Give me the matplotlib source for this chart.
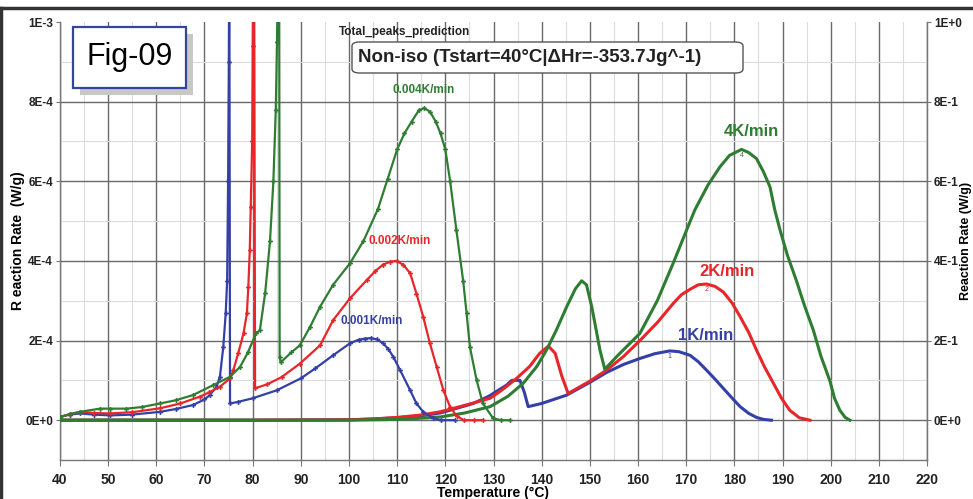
import numpy as np
import matplotlib
matplotlib.use('Agg')
import matplotlib.pyplot as plt
from matplotlib.patches import Rectangle, FancyBboxPatch
from matplotlib.lines import Line2D
from matplotlib.ticker import MultipleLocator

plt.rcParams['font.family'] = ['Liberation Sans', 'DejaVu Sans']

## Data (reaction rate in units of 1E-4 W/g) ##
# slow runs (with markers)
t_001 = [40, 42, 44.2, 47, 50.4, 55, 60.8, 64, 67.6, 70, 71.1, 72.5, 73.2, 73.9, 74.4, 74.7, 74.9, 75.05, 75.15,
         75.3, 77, 80, 85, 90, 93, 96.7, 100.2, 102, 103.3, 104.5, 105.8, 107.1, 108.2, 109.2, 110.6, 112.7, 114,
         115.4, 117.5, 119, 122]
r_001 = [0.08, 0.14, 0.17, 0.14, 0.12, 0.14, 0.21, 0.28, 0.38, 0.52, 0.63, 0.84, 1.09, 1.84, 2.68, 3.5, 6.0, 9.0, 12.0,
         0.42, 0.46, 0.55, 0.75, 1.05, 1.3, 1.63, 1.93, 2.02, 2.05, 2.06, 2.03, 1.93, 1.78, 1.59, 1.26, 0.75, 0.42,
         0.21, 0.05, 0.0, 0.0]

t_002 = [40, 42, 44.2, 47, 50.4, 55, 60.8, 65, 69, 71, 73.2, 75.3, 76, 77, 78.1, 78.8, 79.1, 79.4, 79.6, 79.9, 80.0,
         80.15, 80.3, 80.5, 83, 86, 89.8, 94, 96.7, 100.2, 103.7, 105.5, 107, 108.5, 109.9, 111.3, 112.7, 114,
         115.4, 116.8, 118.2, 119.6, 121, 122.4, 123.8, 126, 127.8]
r_002 = [0.08, 0.15, 0.21, 0.18, 0.17, 0.2, 0.3, 0.42, 0.59, 0.7, 0.84, 1.05, 1.26, 1.68, 2.18, 2.68, 3.35, 4.27, 5.36, 7.0, 9.4,
         12.0, 12.0, 0.8, 0.9, 1.08, 1.42, 1.88, 2.51, 3.06, 3.52, 3.75, 3.9, 3.98, 4.0, 3.9, 3.69, 3.18,
         2.6, 1.93, 1.34, 0.75, 0.33, 0.1, 0.0, 0.0, 0.0]

t_004 = [40, 42, 44.2, 48.3, 50.4, 53.8, 57, 60.8, 64, 67.6, 71.8, 75.3, 77.4, 79, 80.7, 81.5, 82.6, 83.6, 84.3, 84.8,
         85.05, 85.3, 85.5, 85.6, 85.8, 88, 89.8, 91.9, 94, 96.7, 100.2, 103, 106, 108, 110, 111.5, 113, 114.5,
         115.6, 116.8, 118, 119, 120, 121, 122.3, 123.7, 124.4, 125.1, 126.5, 127.8, 129.9, 131.5, 133.4]
r_004 = [0.08, 0.15, 0.21, 0.29, 0.29, 0.29, 0.33, 0.42, 0.5, 0.63, 0.88, 1.09, 1.34, 1.7, 2.18, 2.26, 3.2, 4.5, 6.0, 7.8,
         9.5, 12.0, 12.0, 1.58, 1.45, 1.7, 1.88, 2.34, 2.85, 3.4, 3.94, 4.5, 5.3, 6.05, 6.8, 7.2, 7.5, 7.78,
         7.84, 7.75, 7.5, 7.2, 6.8, 6.0, 4.77, 3.5, 2.7, 1.84, 1.0, 0.42, 0.05, 0.0, 0.0]

# fast runs (lines)
t_1 = [40, 60, 80, 100, 105, 110, 115, 118.9, 121, 125.8, 129, 132.7, 133.8, 135.5, 136.4, 137.2, 140, 145.2, 150,
       153.5, 157, 160.4, 163.5, 166.6, 168.5, 170.8, 172.5, 174.2, 176, 177.7, 179.5, 181.2, 183, 184.6, 186, 187.7]
r_1 = [0, 0, 0, 0.01, 0.03, 0.06, 0.11, 0.18, 0.25, 0.42, 0.6, 0.88, 1.0, 1.0, 0.7, 0.34, 0.42, 0.63, 0.95,
       1.2, 1.4, 1.55, 1.67, 1.74, 1.72, 1.63, 1.47, 1.26, 1.03, 0.8, 0.56, 0.34, 0.17, 0.07, 0.02, 0.0]

t_2 = [40, 60, 80, 100, 105, 110, 115, 118.9, 124, 129.3, 132, 134.8, 137.5, 139.6, 141.4, 142.8, 144.2, 145.5, 150,
       153.5, 157, 160.4, 164, 167.3, 169, 171, 172.5, 174.2, 176, 177.7, 179.5, 181.2, 183, 184.6, 186.3, 188.1,
       189.8, 191.5, 193.5, 195.7]
r_2 = [0, 0, 0, 0.01, 0.03, 0.07, 0.13, 0.21, 0.37, 0.55, 0.78, 1.05, 1.35, 1.68, 1.86, 1.68, 1.1, 0.67, 0.98,
       1.26, 1.6, 2.0, 2.45, 2.93, 3.15, 3.3, 3.4, 3.42, 3.36, 3.22, 2.95, 2.6, 2.2, 1.76, 1.33, 0.93,
       0.55, 0.25, 0.06, 0.0]

t_4 = [40, 60, 80, 100, 105, 110, 115, 118.9, 124, 129.3, 133, 136.2, 139, 141, 143, 145.2, 147, 148.3, 149.3, 150.4,
       152.1, 153.1, 156, 160.4, 164, 167.3, 169.5, 171.8, 174.5, 177, 179, 181.5, 183, 184.6, 186, 187.4, 188.4,
       189.5, 191, 192.9, 194.5, 196.4, 198, 199.8, 200.8, 201.9, 203, 204]
r_4 = [0, 0, 0, 0, 0.01, 0.02, 0.05, 0.08, 0.18, 0.34, 0.6, 0.93, 1.35, 1.76, 2.25, 2.85, 3.3, 3.5, 3.4, 2.85,
       1.76, 1.28, 1.65, 2.18, 3.0, 3.94, 4.6, 5.28, 5.9, 6.36, 6.65, 6.8, 6.72, 6.57, 6.25, 5.86, 5.28,
       4.77, 4.15, 3.5, 2.9, 2.26, 1.6, 1.0, 0.55, 0.25, 0.07, 0.0]

x_ticks = [40, 50, 60, 70, 80, 90, 100, 110, 120, 130, 140, 150, 160, 170, 180, 190, 200, 210, 220]
left_ticks = [0, 2e-4, 4e-4, 6e-4, 8e-4, 1e-3]
left_labels = ['0E+0', '2E-4', '4E-4', '6E-4', '8E-4', '1E-3']
right_ticks = [0, 0.2, 0.4, 0.6, 0.8, 1.0]
right_labels = ['0E+0', '2E-1', '4E-1', '6E-1', '8E-1', '1E+0']

blue = '#3440a6'
red = '#e8262a'
green = '#2e7d32'
scale = 1e-4

fig = plt.figure(figsize=(9.73, 4.99), dpi=100)
ax = fig.add_axes([60/973, 1-460/499, 867/973, 438/499])

# fast runs first, slow runs on top
ax.plot(t_1, np.array(r_1)*scale, color=blue, lw=2.2, zorder=3)
ax.plot(t_2, np.array(r_2)*scale, color=red, lw=2.2, zorder=3)
ax.plot(t_4, np.array(r_4)*scale, color=green, lw=2.2, zorder=3)

for t, r, c in [(t_001, r_001, blue), (t_002, r_002, red), (t_004, r_004, green)]:
    ax.plot(t, np.array(r)*scale, color=c, lw=1.6, marker='P', ms=3.5, mew=0, zorder=4)

ax.set_xlim(40, 220)
ax.set_ylim(-1e-4, 1e-3)
ax.set_xticks(x_ticks)
ax.xaxis.set_minor_locator(MultipleLocator(5))
ax.set_yticks(left_ticks)
ax.set_yticklabels(left_labels)
ax.yaxis.set_minor_locator(MultipleLocator(1e-4))

ax.grid(which='major', color='#6a6a6a', lw=1.0)
ax.grid(which='minor', color='#dcdcdc', lw=0.8)
ax.set_axisbelow(True)
ax.yaxis.get_gridlines()[-1].set_visible(False)

ax.spines['top'].set_visible(False)
for s in ['left', 'right', 'bottom']:
    ax.spines[s].set_color('#777777')
    ax.spines[s].set_linewidth(1.0)

ax.tick_params(axis='x', which='major', length=4, color='#777777', labelsize=10, pad=5)
ax.tick_params(axis='x', which='minor', length=0)
ax.tick_params(axis='y', which='major', length=3, color='#777777', labelsize=8.5, pad=2)
ax.tick_params(axis='y', which='minor', length=0)
for lab in ax.get_xticklabels() + ax.get_yticklabels():
    lab.set_fontweight('bold')
    lab.set_color('#222222')

ax.set_xlabel('Temperature (°C)', fontsize=10, fontweight='bold', labelpad=0)
ax.set_ylabel('R eaction Rate  (W/g)', fontsize=10, fontweight='bold', labelpad=0)

ax2 = ax.twinx()
ax2.set_ylim(-0.1, 1.0)
ax2.set_yticks(right_ticks)
ax2.set_yticklabels(right_labels)
ax2.tick_params(axis='y', length=3, color='#777777', labelsize=8.5, pad=2)
for lab in ax2.get_yticklabels():
    lab.set_fontweight('bold')
    lab.set_color('#222222')
for s in ['top', 'left', 'bottom']:
    ax2.spines[s].set_visible(False)
ax2.spines['right'].set_color('#777777')
ax2.set_ylabel('Reaction Rate (W/g)', fontsize=9, fontweight='bold', labelpad=-1)

# curve labels
ax.text(115.5, 8.15e-4, '0.004K/min', color=green, fontsize=8.5, fontweight='bold', ha='center', va='bottom')
ax.text(110.5, 4.35e-4, '0.002K/min', color=red, fontsize=8.5, fontweight='bold', ha='center', va='bottom')
ax.text(104.8, 2.35e-4, '0.001K/min', color=blue, fontsize=8.5, fontweight='bold', ha='center', va='bottom')
ax.text(183.5, 7.07e-4, '4K/min', color=green, fontsize=12, fontweight='bold', ha='center', va='bottom')
ax.text(178.5, 3.55e-4, '2K/min', color=red, fontsize=12, fontweight='bold', ha='center', va='bottom')
ax.text(174.0, 1.95e-4, '1K/min', color=blue, fontsize=12, fontweight='bold', ha='center', va='bottom')
ax.text(166.6, 1.68e-4, '1', color=blue, fontsize=5, ha='center', va='top')
ax.text(174.2, 3.36e-4, '2', color=red, fontsize=5, ha='center', va='top')
ax.text(181.6, 6.74e-4, '4', color=green, fontsize=5, ha='center', va='top')

# title and boxes
fig.text(339/973, 1-32/499, 'Total_peaks_prediction', fontsize=8.5, fontweight='bold', color='#222222',
         ha='left', va='center')
fig.patches.append(FancyBboxPatch((352/973, 1-73/499), 391/973, 31/499,
                                  boxstyle='round,pad=0,rounding_size=0.008', transform=fig.transFigure,
                                  fc='white', ec='#555555', lw=1.0, zorder=5))
fig.text(358/973, 1-58/499, 'Non-iso (Tstart=40°C|ΔHr=-353.7Jg^-1)', fontsize=13.5, fontweight='bold',
         color='#222222', ha='left', va='center', zorder=6)

fig.patches.append(Rectangle((80/973, 1-95/499), 113/973, 61/499, transform=fig.transFigure,
                             fc='#c8c8c8', ec='none', zorder=5))
fig.patches.append(Rectangle((73/973, 1-88/499), 113/973, 61/499, transform=fig.transFigure,
                             fc='white', ec='#34469c', lw=1.6, zorder=6))
fig.text(129.5/973, 1-57/499, 'Fig-09', fontsize=22, color='black', ha='center', va='center', zorder=7)

# outer frame
fig.lines.append(Line2D([0.001, 0.001], [0, 1-8/499], transform=fig.transFigure, color='#333333', lw=2.5))
fig.lines.append(Line2D([0, 1], [1-8/499, 1-8/499], transform=fig.transFigure, color='#333333', lw=2.5))

fig.savefig('out.png', dpi=100)
